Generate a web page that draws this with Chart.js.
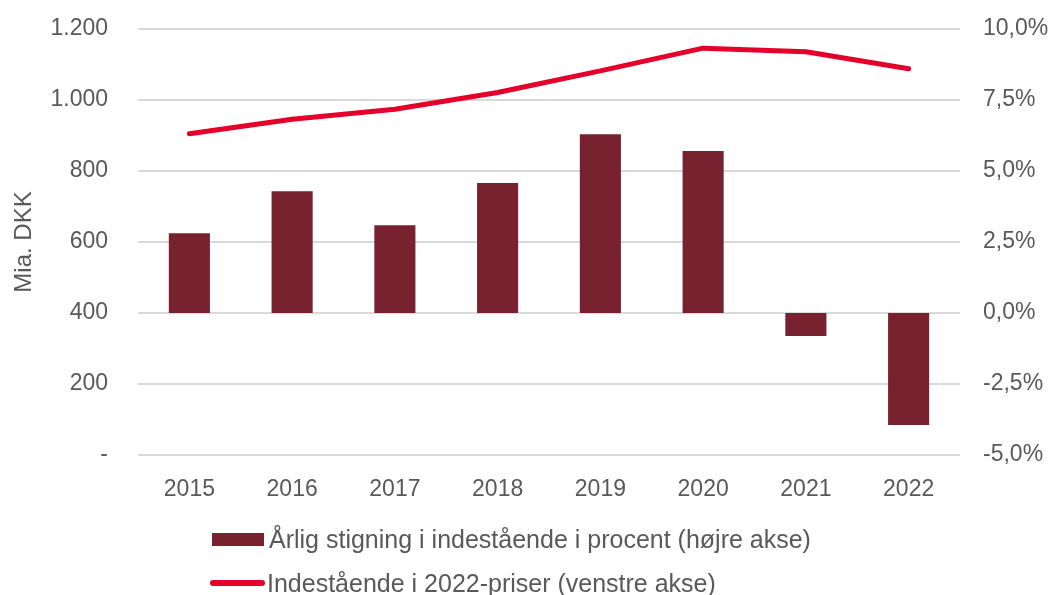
<!DOCTYPE html>
<html><head><meta charset="utf-8">
<script src="https://cdn.jsdelivr.net/npm/chart.js@4.4.0/dist/chart.umd.min.js"></script>
<style>
html,body{margin:0;padding:0;background:#fff;}
#wrap{position:relative;width:1049px;height:595px;overflow:hidden;}
canvas{position:absolute;left:0;top:0;}
.leg{position:absolute;font-family:"Liberation Sans",Arial,sans-serif;font-size:25px;color:#595959;display:flex;align-items:center;white-space:nowrap;height:30px;line-height:30px;}
.sw{display:inline-block;}
</style></head><body>
<div id="wrap"><canvas id="c" width="1049" height="595"></canvas><div id="legend"></div></div>
<script>
const years = ['2015','2016','2017','2018','2019','2020','2021','2022'];
const growthPct = [2.81, 4.29, 3.09, 4.58, 6.29, 5.70, -0.81, -3.94];
const depositsBn = [905, 946, 974, 1021, 1082, 1146, 1136, 1088];
const leftTickLabels = ['-', '200', '400', '600', '800', '1.000', '1.200'];
const rightTickLabels = ['-5,0%', '-2,5%', '0,0%', '2,5%', '5,0%', '7,5%', '10,0%'];
const barLabel = 'Årlig stigning i indestående i procent (højre akse)';
const lineLabel = 'Indestående i 2022-priser (venstre akse)';

const FONT = '"Liberation Sans", Arial, sans-serif';
const TXT = '#595959';
const BAR = '#78212F';
const LINE = '#E4002B';

Chart.defaults.font.family = FONT;
Chart.defaults.color = TXT;

function fixV(w) {
  return s => { s.width = w; s.paddingTop = 0; s.paddingBottom = 0; };
}

new Chart(document.getElementById('c'), {
  type: 'bar',
  data: {
    labels: years,
    datasets: [
      { type: 'line', label: lineLabel, data: depositsBn, yAxisID: 'y', order: 0,
        borderColor: LINE, backgroundColor: LINE, borderWidth: 5, pointRadius: 0,
        tension: 0, borderCapStyle: 'round', borderJoinStyle: 'round', fill: false },
      { type: 'bar', label: barLabel, data: growthPct, yAxisID: 'y1', order: 1,
        backgroundColor: BAR, borderWidth: 0, barPercentage: 0.4, categoryPercentage: 1.0 }
    ]
  },
  options: {
    responsive: false,
    animation: false,
    layout: { padding: { top: 29, bottom: 90, left: 0, right: 0 } },
    plugins: { legend: { display: false }, tooltip: { enabled: false } },
    scales: {
      x: {
        grid: { display: false }, border: { display: false },
        ticks: { font: { size: 23 }, color: TXT, padding: 13, maxRotation: 0 },
        afterFit: s => { s.height = 50; s.paddingLeft = 0; s.paddingRight = 0; }
      },
      y: {
        position: 'left', min: 0, max: 1200,
        ticks: { stepSize: 200, font: { size: 23 }, color: TXT, padding: 30,
          callback: (v, i) => leftTickLabels[i] },
        grid: { color: '#d9d9d9', lineWidth: 2, drawTicks: false },
        border: { display: false },
        title: { display: true, text: 'Mia. DKK', font: { size: 24 }, color: TXT, padding: { top: 10, bottom: 0 } },
        afterFit: fixV(138)
      },
      y1: {
        position: 'right', min: -5, max: 10,
        ticks: { stepSize: 2.5, font: { size: 23 }, color: TXT, padding: 23,
          callback: (v, i) => rightTickLabels[i] },
        grid: { display: false, drawTicks: false }, border: { display: false },
        afterFit: fixV(89)
      }
    }
  }
});

const leg = document.getElementById('legend');
const items = [
  { label: barLabel, left: 212, top: 524, sw: 'width:52px;height:13px;background:' + BAR + ';margin-right:5px;' },
  { label: lineLabel, left: 210, top: 568, sw: 'width:55px;height:6px;border-radius:3px;background:' + LINE + ';margin-right:2px;' }
];
items.forEach(it => {
  const d = document.createElement('div');
  d.className = 'leg';
  d.style.left = it.left + 'px';
  d.style.top = it.top + 'px';
  const s = document.createElement('span');
  s.className = 'sw';
  s.style.cssText = it.sw;
  d.appendChild(s);
  d.appendChild(document.createTextNode(it.label));
  leg.appendChild(d);
});
</script>
</body></html>
